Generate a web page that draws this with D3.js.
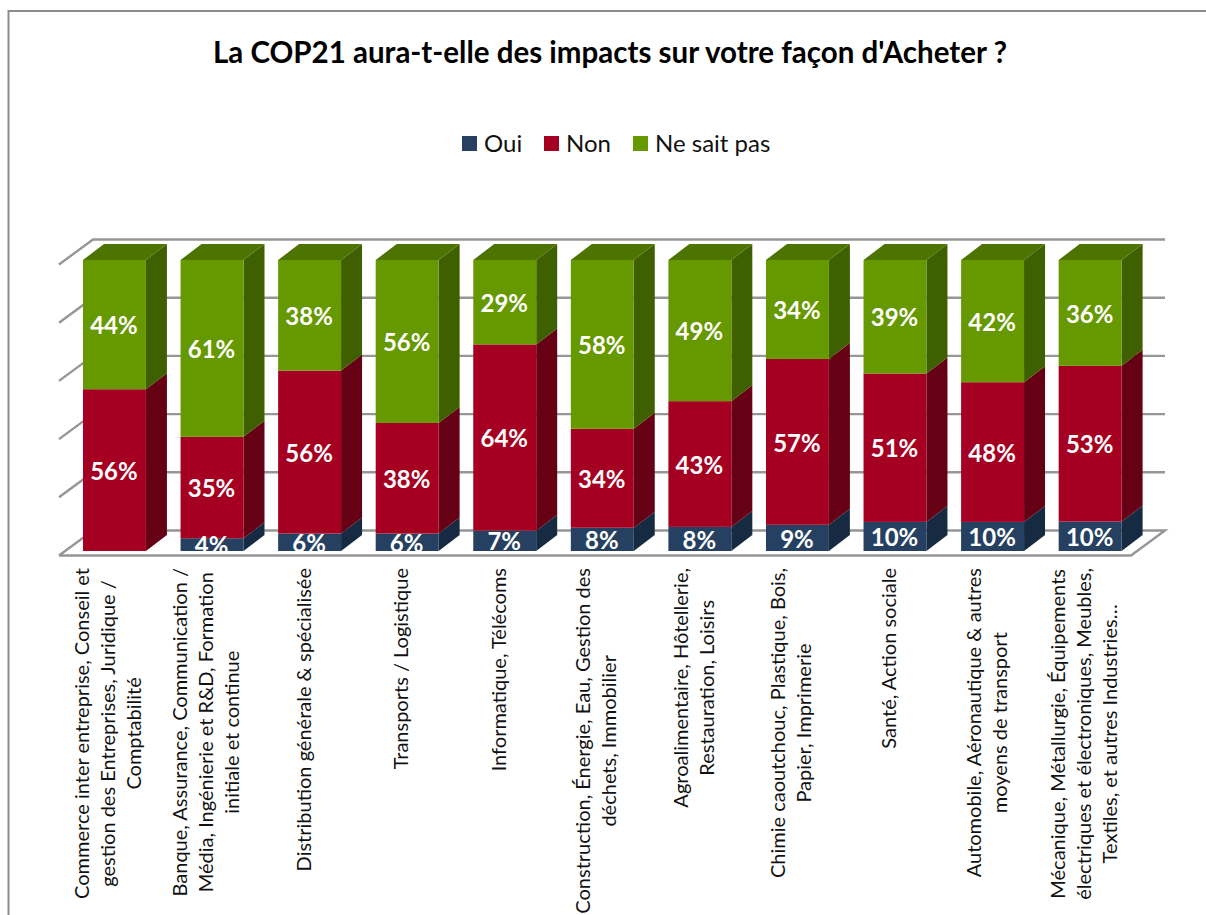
<!DOCTYPE html>
<html><head><meta charset="utf-8">
<script src="https://cdn.jsdelivr.net/npm/d3@7"></script>
<style>html,body{margin:0;padding:0;background:#fff;overflow:hidden}svg{display:block}text{font-family:Lato,"Open Sans",sans-serif}</style>
</head><body><svg id="c" width="1206" height="915"></svg>
<script>
const chartTitle = "La COP21 aura-t-elle des impacts sur votre façon d'Acheter ?";
const categoryLines = [
 ["Commerce inter entreprise, Conseil et","gestion des Entreprises, Juridique /","Comptabilité"],
 ["Banque, Assurance, Communication /","Média, Ingénierie et R&D, Formation","initiale et continue"],
 ["Distribution générale & spécialisée"],
 ["Transports / Logistique"],
 ["Informatique, Télécoms"],
 ["Construction, Énergie, Eau, Gestion des","déchets, Immobilier"],
 ["Agroalimentaire, Hôtellerie,","Restauration, Loisirs"],
 ["Chimie caoutchouc, Plastique, Bois,","Papier, Imprimerie"],
 ["Santé, Action sociale"],
 ["Automobile, Aéronautique & autres","moyens de transport"],
 ["Mécanique, Métallurgie, Équipements","électriques et électroniques, Meubles,","Textiles, et autres Industries…"]
];
const seriesNames = ["Oui","Non","Ne sait pas"];
const oui     = [0,4.4,6,6,7,8,8.3,9,10,10,10];
const non     = [55.6,35,56,38,64,34,43.3,57,51,48,53];
const neSait  = [44.4,61,38,56,29,58,48.6,34,39,42,36];
const wallTicks = [0,0.2,0.4,0.6,0.8,1];

const frontColors = ["#254061","#A50021","#669900"];
const sideColors  = ["#162A42","#660014","#3F6000"];
const topColor    = "#4D7300";
const gridColor   = "#969696";

const svg = d3.select("#c");
const rows = oui.map((_,i)=>({i,"Oui":oui[i],"Non":non[i],"Ne sait pas":neSait[i]}));
const stacked = d3.stack().keys(seriesNames).offset(d3.stackOffsetExpand)(rows);

const x = d3.scaleBand().domain(d3.range(oui.length)).range([83,1121.6]).paddingInner(0.355);
const y = d3.scaleLinear().domain([0,1]).range([551,260]);
const yWall = d3.scaleLinear().domain([0,1]).range([555.5,264.5]);
const barDepth = {dx:21,dy:-16}, wallDepth = {dx:34,dy:-25};
const wallLeft = 59, wallRight = 1131;

// chart frame
svg.append("path").attr("d","M8.5,915V11H1206").attr("fill","none").attr("stroke","#8c8c8c").attr("stroke-width",2);

// title
svg.append("text").attr("x",610).attr("y",63).attr("text-anchor","middle")
  .attr("font-size",29.5).attr("font-weight",700).attr("fill","#000").text(chartTitle);

// legend
const legendX = [462,544,633];
const lg = svg.append("g").selectAll("g").data(seriesNames).join("g");
lg.append("rect").attr("x",(d,i)=>legendX[i]).attr("y",136).attr("width",15).attr("height",15).attr("fill",(d,i)=>frontColors[i]);
lg.append("text").attr("x",(d,i)=>legendX[i]+22).attr("y",152).attr("font-size",24).attr("fill","#111").text(d=>d);

// walls and floor
const walls = svg.append("g").attr("fill","none").attr("stroke",gridColor).attr("stroke-width",2.4);
walls.selectAll("path.g").data(wallTicks).join("path").attr("class","g")
  .attr("d",v=>{
    const yf=yWall(v), yb=yf+wallDepth.dy, xb=wallLeft+wallDepth.dx;
    return `M${wallLeft},${yf}L${xb},${yb}H${wallRight+wallDepth.dx}`+(v===0?`L${wallRight},${yf}H${wallLeft}`:"");
  });

// bars
const bars = svg.append("g");
const w = x.bandwidth();
const quad = (x0,y0,x1,y1,dx,dy)=>`M${x0},${y0}L${x1},${y1}L${x1+dx},${y1+dy}L${x0+dx},${y0+dy}Z`;
rows.forEach((r,i)=>{
  const g = bars.append("g");
  stacked.forEach((s,k)=>{
    const [a,b]=s[i]; if(b-a<=0) return;
    g.append("path").attr("fill",sideColors[k])
      .attr("d",quad(x(i)+w,y(a),x(i)+w,y(b),barDepth.dx,barDepth.dy));
    g.append("rect").attr("x",x(i)).attr("y",y(b)).attr("width",w).attr("height",y(a)-y(b)).attr("fill",frontColors[k]);
  });
  g.append("path").attr("fill",topColor).attr("d",quad(x(i),y(1),x(i)+w,y(1),barDepth.dx,barDepth.dy));
});

// data labels
stacked.forEach((s,k)=>{
  const src=[oui,non,neSait][k];
  bars.append("g").selectAll("text").data(s.map((d,i)=>({d,i})).filter(o=>src[o.i]>0)).join("text")
    .attr("x",o=>x(o.i)+w/2-0.5).attr("y",o=>(y(o.d[0])+y(o.d[1]))/2+1).attr("dy","0.36em")
    .attr("text-anchor","middle").attr("font-size",24).attr("font-weight",700).attr("fill","#fff")
    .text(o=>d3.format("d")(src[o.i])+"%");
});

// category labels
const labelFont=20, lineStep=26, labelTop=568;
categoryLines.forEach((lines,i)=>{
  const firstBase = x(i)+w/2-5-(lines.length-1)*lineStep/2+6;
  const g = svg.append("g");
  const ts = g.selectAll("text").data(lines).join("text").attr("font-size",labelFont).attr("fill","#111").attr("text-anchor","middle").text(d=>d);
  const maxLen = d3.max(ts.nodes(),n=>n.getComputedTextLength());
  const cy = labelTop+maxLen/2;
  ts.attr("transform",(d,j)=>`translate(${firstBase+j*lineStep},${cy}) rotate(-90)`);
});
</script></body></html>
